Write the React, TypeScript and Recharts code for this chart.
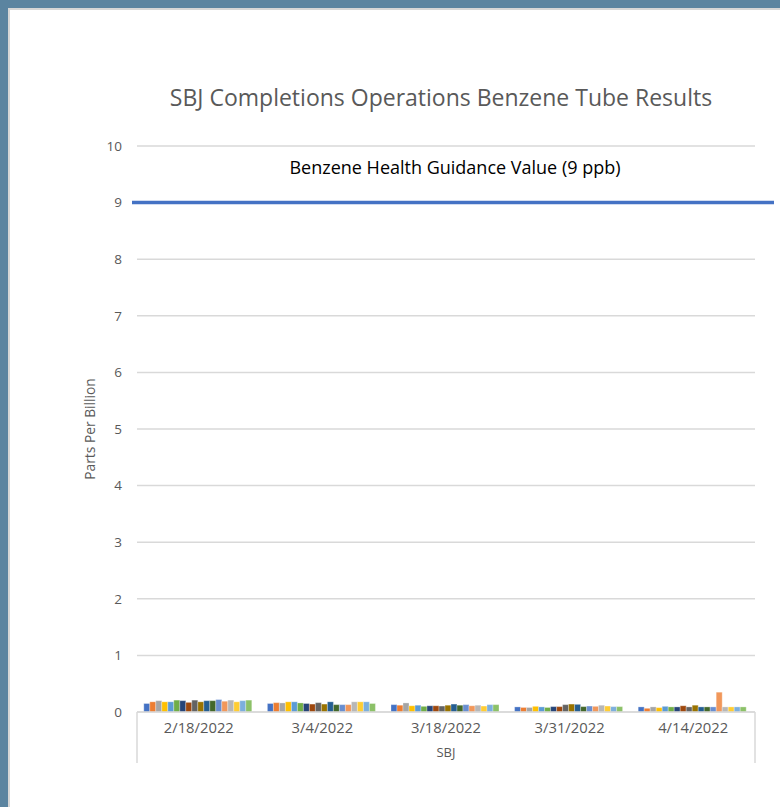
import React from 'react';
import { BarChart, Bar, XAxis, YAxis, CartesianGrid, ReferenceLine } from 'recharts';

const categories = ['2/18/2022', '3/4/2022', '3/18/2022', '3/31/2022', '4/14/2022'];
const seriesNames = [
  'Tube 1', 'Tube 2', 'Tube 3', 'Tube 4', 'Tube 5', 'Tube 6', 'Tube 7', 'Tube 8', 'Tube 9',
  'Tube 10', 'Tube 11', 'Tube 12', 'Tube 13', 'Tube 14', 'Tube 15', 'Tube 16', 'Tube 17', 'Tube 18',
];
const colors = [
  '#4472C4', '#ED7D31', '#A5A5A5', '#FFC000', '#5B9BD5', '#70AD47', '#264478', '#9E480E', '#636363',
  '#997300', '#255E91', '#43682B', '#698ED0', '#F1975A', '#B7B7B7', '#FFCD33', '#7CAFDD', '#8CC168',
];
const values0218 = [0.15, 0.18, 0.2, 0.18, 0.18, 0.21, 0.2, 0.17, 0.21, 0.18, 0.2, 0.2, 0.22, 0.19, 0.21, 0.18, 0.2, 0.21];
const values0304 = [0.15, 0.165, 0.16, 0.18, 0.18, 0.16, 0.15, 0.14, 0.165, 0.14, 0.18, 0.13, 0.13, 0.13, 0.18, 0.18, 0.18, 0.15];
const values0318 = [0.13, 0.12, 0.16, 0.11, 0.12, 0.1, 0.11, 0.11, 0.105, 0.12, 0.14, 0.12, 0.13, 0.11, 0.12, 0.105, 0.13, 0.13];
const values0331 = [0.09, 0.08, 0.08, 0.1, 0.09, 0.08, 0.095, 0.095, 0.13, 0.14, 0.135, 0.095, 0.105, 0.1, 0.12, 0.105, 0.095, 0.095];
const values0414 = [0.09, 0.065, 0.09, 0.077, 0.1, 0.09, 0.09, 0.11, 0.09, 0.12, 0.09, 0.09, 0.09, 0.35, 0.09, 0.09, 0.09, 0.09];
const yTicks = [0, 1, 2, 3, 4, 5, 6, 7, 8, 9, 10];
const guidanceValue = 9;
const guidanceLabel = 'Benzene Health Guidance Value (9 ppb)';
const title = 'SBJ Completions Operations Benzene Tube Results';
const yLabel = 'Parts Per Billion';
const groupLabel = 'SBJ';

const valueRows = [values0218, values0304, values0318, values0331, values0414];
const data = categories.map((c, i) => {
  const row: Record<string, any> = { date: c };
  seriesNames.forEach((s, j) => {
    row[s] = valueRows[i][j];
  });
  return row;
});

const FONT = '"Open Sans", sans-serif';
const TEXT = '#595959';
const GRID = '#d9d9d9';

const XAxisExtra = (props: any) => {
  const vb = props.viewBox || {};
  const { x, y, width } = vb;
  if (x == null) return null;
  return (
    <g>
      <line x1={x} y1={y} x2={x} y2={y + 51} stroke={GRID} strokeWidth={1.5} />
      <line x1={x + width} y1={y} x2={x + width} y2={y + 51} stroke={GRID} strokeWidth={1.5} />
      <text x={x + width / 2} y={y + 45} textAnchor="middle" fill={TEXT} fontSize={13} fontFamily={FONT}>
        {groupLabel}
      </text>
    </g>
  );
};

const YLabel = (props: any) => {
  const vb = props.viewBox || {};
  const cx = 89;
  const cy = vb.y + vb.height / 2;
  return (
    <text
      x={cx}
      y={cy}
      transform={`rotate(-90 ${cx} ${cy})`}
      textAnchor="middle"
      dominantBaseline="central"
      fill={TEXT}
      fontSize={13.8}
      fontFamily={FONT}
    >
      {yLabel}
    </text>
  );
};

const GuideLine = (p: any) => (
  <line x1={p.x1 - 5} y1={p.y1} x2={p.x2 + 19} y2={p.y2} stroke="#4472C4" strokeWidth={3.5} />
);

const GuideLabel = (props: any) => {
  const vb = props.viewBox || {};
  return (
    <text
      x={vb.x + vb.width / 2 + 9}
      y={vb.y - 36}
      textAnchor="middle"
      dominantBaseline="central"
      fill="#000"
      fontSize={18}
      fontFamily={FONT}
    >
      {guidanceLabel}
    </text>
  );
};

export default function App() {
  return (
    <div style={{ position: 'absolute', left: 0, top: 0, width: 780, height: 807, background: '#5B84A0', overflow: 'hidden' }}>
      <div style={{ position: 'absolute', left: 8, top: 8, right: 0, bottom: 0, background: '#D6D6D6' }} />
      <div style={{ position: 'absolute', left: 10, top: 10, right: 0, bottom: 0, background: '#FFFFFF' }} />
      <div
        style={{
          position: 'absolute',
          left: 0,
          width: 882,
          top: 82,
          textAlign: 'center',
          fontFamily: FONT,
          fontSize: 23,
          color: TEXT,
          whiteSpace: 'nowrap',
          lineHeight: '30px',
        }}
      >
        {title}
      </div>
      <div style={{ position: 'absolute', left: 0, top: 0 }}>
        <BarChart
          width={780}
          height={807}
          data={data}
          margin={{ top: 146, right: 25, bottom: 45, left: 87 }}
          barCategoryGap="5.5%"
          barGap={0}
        >
          <CartesianGrid vertical={false} stroke={GRID} strokeWidth={1.5} />
          <XAxis
            dataKey="date"
            height={50}
            axisLine={{ stroke: GRID, strokeWidth: 1.5 }}
            tickLine={false}
            tickSize={0}
            tickMargin={10}
            tick={{ fill: TEXT, fontSize: 14.8, fontFamily: FONT }}
            label={{ content: XAxisExtra }}
          />
          <YAxis
            width={50}
            domain={[0, 10]}
            ticks={yTicks}
            axisLine={false}
            tickLine={false}
            tickSize={0}
            tickMargin={15}
            tick={{ fill: TEXT, fontSize: 13.5, fontFamily: FONT }}
            label={{ content: YLabel }}
          />
          {seriesNames.map((s, i) => (
            <Bar
              key={s}
              dataKey={s}
              fill={colors[i]}
              stroke="#ffffff"
              strokeWidth={0.5}
              strokeOpacity={0.6}
              isAnimationActive={false}
            />
          ))}
          <ReferenceLine y={guidanceValue} shape={GuideLine} label={{ content: GuideLabel }} />
        </BarChart>
      </div>
    </div>
  );
}
